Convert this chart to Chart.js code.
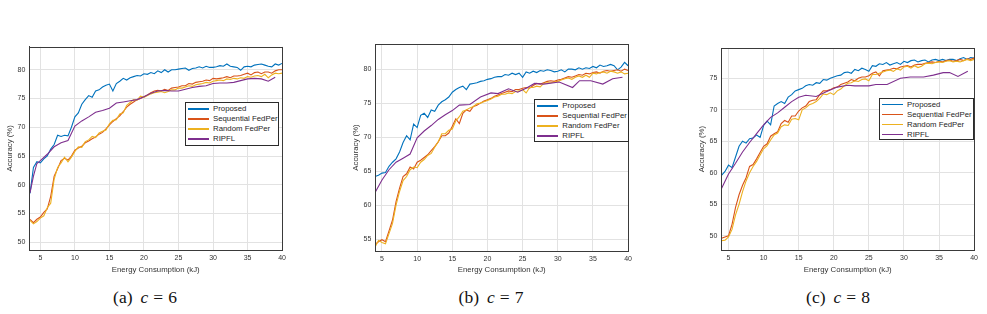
<!DOCTYPE html>
<html>
<head>
<meta charset="utf-8">
<script src="https://cdn.jsdelivr.net/npm/chart.js@4.4.0/dist/chart.umd.min.js"></script>
<style>
body { margin:0; background:#fff; width:987px; height:314px; position:relative; overflow:hidden; font-family:"Liberation Sans", Arial, sans-serif; }
.box { position:absolute; top:30px; width:290px; height:250px; }
.legend { position:absolute; background:#fff; border:1px solid #2b2b2b; box-sizing:border-box; font-size:7.8px; color:#262626; padding-top:1px; }
.legend div { height:10px; line-height:10px; white-space:nowrap; }
.legend .ln { display:inline-block; width:21px; height:1.5px; vertical-align:middle; margin:0 4px 0 2px; }
.cap { position:absolute; top:287px; width:200px; line-height:20px; text-align:center; font-family:"Liberation Serif", "Times New Roman", serif; font-size:17.5px; color:#111; }
.cap i { margin:0 5px 0 8px; }
.cap span { margin-left:5px; }
</style>
</head>
<body>
<div class="box" style="left:0px"><canvas id="ca" width="290" height="250"></canvas></div>
<div class="box" style="left:345.7px"><canvas id="cb" width="290" height="250"></canvas></div>
<div class="box" style="left:691.7px"><canvas id="cc" width="290" height="250"></canvas></div>
<div class="cap" style="left:45px">(a)<i>c</i>=<span>6</span></div>
<div class="cap" style="left:391px">(b)<i>c</i>=<span>7</span></div>
<div class="cap" style="left:738px">(c)<i>c</i>=<span>8</span></div>
<script>
// series names / colours (matlab default order)
const seriesNames = ['Proposed', 'Sequential FedPer', 'Random FedPer', 'RIPFL'];
const seriesColors = ['#0072BD', '#D95319', '#EDB120', '#7E2F8E'];

const xTicks = [5, 10, 15, 20, 25, 30, 35, 40];
const yTicksA = [50, 55, 60, 65, 70, 75, 80];
const yTicksB = [55, 60, 65, 70, 75, 80];
const yTicksC = [50, 55, 60, 65, 70, 75];

// ---- (a) c = 6 ----
const energyA = [3.5,4,4.5,5,5.5,6,6.5,7,7.5,8, 8.5,9,9.5,10,10.5,11,11.5,12,12.5,13,
  13.5,14,14.5,15,15.5,16,16.5,17,17.5,18, 18.5,19,19.5,20,20.5,21,21.5,22,22.5,23,
  23.5,24,24.5,25,25.5,26,26.5,27,27.5,28, 28.5,29,29.5,30,30.5,31,31.5,32,32.5,33,
  33.5,34,34.5,35,35.5,36,36.5,37,37.5,38, 38.5,39,39.5,40];
const proposedA = [58.5,63.0,64.0,63.8,64.5,65.0,66.2,67.0,68.6,68.4,
  68.6,68.5,70.0,71.8,72.5,74.0,74.8,75.5,75.2,76.3,
  76.5,77.0,77.3,77.5,76.3,77.6,78.0,78.5,78.2,78.6,
  78.8,79.0,78.9,79.3,79.2,79.5,79.3,79.8,79.5,80.0,
  79.6,80.0,80.0,80.1,80.2,80.3,79.9,80.2,80.3,80.5,
  80.3,80.6,80.4,80.4,80.5,80.7,80.6,81.0,80.6,80.5,
  80.4,79.9,80.5,80.6,80.5,80.8,80.9,81.0,80.8,80.6,
  80.5,81.0,80.8,81.1];
const sequentialA = [54.0,53.4,54.0,54.4,55.2,55.8,58.0,61.5,62.8,64.2,
  64.6,64.3,65.0,66.0,66.4,66.7,67.3,67.6,68.0,68.3,
  68.8,69.1,69.7,70.4,71.0,71.5,72.0,72.7,73.5,74.0,
  74.4,74.8,75.0,75.3,75.6,76.0,76.3,76.4,76.3,76.6,
  76.4,76.8,76.9,77.0,77.2,77.2,77.6,77.5,77.8,77.9,
  78.0,78.2,78.1,78.5,78.4,78.5,78.6,78.8,78.6,78.9,
  78.9,79.0,79.2,79.4,79.1,79.5,79.6,79.3,79.6,79.6,
  79.4,79.8,80.0,80.0];
const randomA = [53.8,53.2,53.6,54.2,54.6,56.0,56.8,61.0,63.0,63.8,
  64.8,64.0,64.8,65.8,66.6,66.5,67.5,67.8,68.4,68.2,
  69.0,69.3,69.5,70.6,71.2,71.3,72.3,72.5,73.8,74.3,
  74.8,74.7,75.4,75.2,75.5,75.8,76.0,76.1,76.2,76.0,
  76.2,76.5,76.5,76.8,76.8,77.0,77.2,77.1,77.4,77.5,
  77.6,77.8,77.7,78.0,78.1,78.2,78.1,78.4,78.3,78.5,
  78.4,78.6,78.5,78.8,78.7,78.9,79.0,78.8,79.2,78.6,
  79.1,79.4,79.3,79.4];
const ripflEnergyA = [3.5,4,4.5,5,6,7,8,9,10,11,12,13,14,15,16,17,18,19,20,21,22,23,24,25,26,27,28,29,30,31,32,33,34,35,36,37,38,39];
const ripflA = [58.6,61.5,63.7,64.2,65.3,66.6,67.3,67.7,70.2,71.1,71.8,72.6,72.9,73.3,74.2,74.4,74.6,74.8,75.3,75.9,
  76.3,76.4,76.3,76.3,76.6,76.9,77.1,77.2,77.6,77.7,77.7,77.8,78.1,78.4,78.5,78.4,78.0,78.7];

// ---- (b) c = 7 and (c) c = 8 share the energy grid ----
const energyBC = [4,4.5,5,5.5,6,6.5,7,7.5,8,8.5, 9,9.5,10,10.5,11,11.5,12,12.5,13,13.5,
  14,14.5,15,15.5,16,16.5,17,17.5,18,18.5, 19,19.5,20,20.5,21,21.5,22,22.5,23,23.5,
  24,24.5,25,25.5,26,26.5,27,27.5,28,28.5, 29,29.5,30,30.5,31,31.5,32,32.5,33,33.5,
  34,34.5,35,35.5,36,36.5,37,37.5,38,38.5, 39,39.5,40];

const proposedB = [64.2,64.4,64.7,64.8,65.7,66.3,66.8,67.8,69.2,70.2,
  69.6,71.9,71.4,73.2,73.5,72.9,74.0,73.8,74.7,75.2,
  75.5,75.9,76.6,77.0,77.3,77.5,77.0,77.8,77.9,78.0,
  78.2,78.3,78.5,78.6,78.8,78.9,78.9,79.2,79.1,79.4,
  79.2,79.4,78.8,79.6,79.4,79.7,79.5,79.8,79.7,79.9,
  79.8,79.6,79.7,79.9,79.6,80.0,80.0,79.9,80.2,80.0,
  80.2,80.1,80.4,80.2,80.6,80.4,80.5,80.7,80.5,79.9,
  80.3,81.0,80.5];
const sequentialB = [54.2,54.6,54.9,54.6,56.2,57.8,60.5,62.5,64.2,64.6,
  65.6,65.3,66.3,66.6,67.0,67.4,68.0,68.6,69.3,70.2,
  70.2,70.6,71.6,72.7,72.0,73.5,74.0,73.8,74.5,74.7,
  75.0,75.3,75.5,75.7,76.0,76.2,76.4,76.6,76.8,76.7,
  77.0,77.0,77.2,77.3,77.2,77.6,77.9,77.8,78.0,78.2,
  78.3,78.2,78.4,78.5,78.7,78.9,78.8,79.0,79.2,79.1,
  79.4,79.3,79.5,79.6,79.4,79.7,79.8,79.7,79.8,79.9,
  79.7,80.0,79.8];
const randomB = [53.8,54.8,54.5,54.3,55.8,57.3,60.0,62.0,63.6,64.2,
  65.2,65.6,65.5,66.3,66.7,67.3,67.6,68.5,69.3,70.5,
  70.5,71.0,71.2,72.4,73.0,73.8,74.0,74.3,74.5,74.9,
  75.0,75.2,75.4,75.6,75.9,76.0,76.3,76.3,76.5,76.4,
  76.7,76.8,77.0,76.5,77.3,77.3,77.5,77.4,77.9,78.0,
  78.0,78.1,78.2,78.4,78.6,78.7,78.5,78.8,79.0,78.8,
  79.1,78.8,79.4,79.3,79.5,79.6,79.4,79.7,79.6,79.4,
  79.6,79.3,79.4];
const ripflEnergyB = [4,5,6,7,8,9,10,11,12,13,14,15,16,17.5,19,20.5,21.5,23,24.3,25.5,26.7,28,30.2,32.1,33.1,34.7,36.4,37.8,39.2];
const ripflB = [61.8,63.7,65.2,66.3,66.9,67.5,69.9,70.9,71.7,72.6,73.3,73.9,74.7,74.8,75.9,76.5,76.4,77.1,76.6,77.2,
  77.9,77.8,78.1,77.3,78.3,78.3,77.8,78.6,78.8];

const proposedC = [59.6,60.2,61.2,60.8,62.5,64.2,65.0,64.7,65.4,65.5,
  66.0,65.6,67.5,68.2,67.6,70.6,71.0,71.3,71.0,72.0,
  72.4,73.0,73.2,73.4,73.8,74.0,73.9,74.3,74.2,74.8,
  74.7,75.0,75.2,75.4,75.5,75.9,76.0,75.8,76.4,76.2,
  76.6,76.4,76.1,77.0,76.9,77.3,77.2,77.5,77.1,77.3,
  77.5,77.2,77.7,77.5,77.8,77.9,77.6,77.8,77.9,77.6,
  77.9,78.0,77.8,78.0,77.8,78.0,78.0,77.8,78.1,78.3,
  78.0,78.3,78.2];
const sequentialC = [49.6,49.8,50.0,51.8,54.5,56.5,58.0,59.2,61.0,61.3,
  62.2,63.2,64.2,64.6,65.8,66.2,66.5,67.8,68.3,68.0,
  69.0,69.0,69.8,70.3,70.6,71.3,71.5,71.6,72.4,73.0,
  73.0,73.2,73.5,73.6,74.0,74.2,74.4,74.8,74.6,75.0,
  75.2,75.2,75.4,75.8,76.0,75.4,76.2,76.3,76.4,76.6,
  76.5,76.8,76.9,77.0,76.8,77.1,77.2,77.2,77.4,77.5,
  77.6,77.5,77.7,77.6,77.8,77.9,77.7,77.8,78.0,77.8,
  78.1,78.0,78.2];
const randomC = [49.2,49.3,49.8,51.0,53.3,55.0,57.0,58.7,60.0,61.0,
  61.8,62.8,63.8,64.3,65.2,66.0,66.3,67.3,67.6,67.5,
  68.5,68.6,68.4,70.0,70.3,70.8,71.0,71.3,71.8,72.5,
  72.4,72.7,72.4,73.0,73.3,73.8,74.2,74.3,74.6,74.5,
  74.8,74.9,74.6,75.6,75.6,75.8,76.0,76.2,76.3,76.1,
  76.5,76.3,76.8,76.9,76.6,77.0,76.7,76.9,77.3,77.4,
  77.3,77.5,77.6,77.5,77.7,77.8,77.6,77.7,77.6,77.8,
  78.0,77.8,78.0];
const ripflEnergyC = [4,5,6,7,8,9,10,11,12,13,14,15,16,17.5,19,20.5,22,23,24,25,26,27.6,29.5,30.9,32.8,34.2,35.6,36.5,37.7,39.1];
const ripflC = [57.5,59.8,61.5,63.3,64.8,66.2,67.6,68.8,69.5,70.4,71.3,72.0,72.3,72.1,72.9,73.6,73.9,73.8,73.8,73.8,
  74.0,74.0,75.0,75.2,75.2,75.5,75.9,75.9,75.3,76.1];

const tickFont = { family: '"Liberation Sans", Arial, sans-serif', size: 7 };
const titleFont = { family: '"Liberation Sans", Arial, sans-serif', size: 7.8 };
const axisColor = '#333';
const gridColor = '#e2e2e2';

// draws the full matlab style box round the plot area
const boxPlugin = {
  id: 'box',
  afterDatasetsDraw(chart) {
    const a = chart.chartArea, ctx = chart.ctx;
    ctx.save();
    ctx.strokeStyle = '#3a3a3a';
    ctx.lineWidth = 1;
    ctx.strokeRect(Math.round(a.left) + 0.5, Math.round(a.top) + 0.5, Math.round(a.right - a.left), Math.round(a.bottom - a.top));
    ctx.restore();
  }
};

function toPoints(xs, ys) {
  return ys.map((y, i) => ({ x: xs[i], y: y }));
}

function makeChart(id, c) {
  const lines = [
    toPoints(c.xs, c.proposed),
    toPoints(c.xs, c.sequential),
    toPoints(c.xs, c.random),
    toPoints(c.ripX, c.ripfl)
  ];
  const datasets = lines.map((d, i) => ({
    label: seriesNames[i],
    data: d,
    borderColor: seriesColors[i],
    backgroundColor: seriesColors[i],
    borderWidth: 1.1,
    pointRadius: 0,
    tension: 0,
    order: 3 - i
  }));
  return new Chart(document.getElementById(id), {
    type: 'line',
    data: { datasets: datasets },
    plugins: [boxPlugin],
    options: {
      responsive: false,
      animation: false,
      devicePixelRatio: 1,
      layout: { padding: { left: 0, top: c.padTop, right: c.padRight, bottom: 0 } },
      plugins: { legend: { display: false }, tooltip: { enabled: false } },
      scales: {
        x: {
          type: 'linear', min: c.xmin, max: 40,
          afterBuildTicks: s => { s.ticks = xTicks.map(v => ({ value: v })); },
          afterFit: s => { s.height = c.xAxisH; },
          grid: { color: gridColor, drawTicks: false },
          border: { color: '#3a3a3a' },
          ticks: { padding: 4, font: tickFont, color: axisColor, maxRotation: 0, autoSkip: false },
          title: { display: true, text: 'Energy Consumption (kJ)', font: titleFont, color: axisColor, padding: { top: 0, bottom: 5 } }
        },
        y: {
          type: 'linear', min: c.ymin, max: c.ymax,
          afterBuildTicks: s => { s.ticks = c.yTicks.map(v => ({ value: v })); },
          afterFit: s => { s.width = 29.3; },
          grid: { color: gridColor, drawTicks: false },
          border: { color: '#3a3a3a' },
          ticks: { padding: 4, font: tickFont, color: axisColor, autoSkip: false },
          title: { display: true, text: 'Accuracy (%)', font: titleFont, color: axisColor, padding: { top: 5.5, bottom: 0 } }
        }
      }
    }
  });
}

makeChart('ca', { xs: energyA, proposed: proposedA, sequential: sequentialA, random: randomA,
  ripX: ripflEnergyA, ripfl: ripflA, xmin: 3.4, ymin: 48.66, ymax: 84, yTicks: yTicksA,
  padTop: 16.7, padRight: 4.3, xAxisH: 30 });
makeChart('cb', { xs: energyBC, proposed: proposedB, sequential: sequentialB, random: randomB,
  ripX: ripflEnergyB, ripfl: ripflB, xmin: 4.05, ymin: 53.24, ymax: 83.7, yTicks: yTicksB,
  padTop: 14, padRight: 4, xAxisH: 29 });
makeChart('cc', { xs: energyBC, proposed: proposedC, sequential: sequentialC, random: randomC,
  ripX: ripflEnergyC, ripfl: ripflC, xmin: 3.97, ymin: 47.73, ymax: 79.76, yTicks: yTicksC,
  padTop: 18.3, padRight: 5, xAxisH: 30 });

// legends (matlab boxes inside the axes)
function makeLegend(left, top, width, height) {
  const el = document.createElement('div');
  el.className = 'legend';
  el.style.left = left + 'px';
  el.style.top = top + 'px';
  el.style.width = width + 'px';
  el.style.height = height + 'px';
  seriesNames.forEach((name, i) => {
    const row = document.createElement('div');
    const ln = document.createElement('span');
    ln.className = 'ln';
    ln.style.background = seriesColors[i];
    row.appendChild(ln);
    row.appendChild(document.createTextNode(name));
    el.appendChild(row);
  });
  document.body.appendChild(el);
}
makeLegend(185, 102.3, 94.3, 43.4);
makeLegend(534.3, 99, 95, 43.3);
makeLegend(879, 97.7, 95, 42.6);
</script>
</body>
</html>
